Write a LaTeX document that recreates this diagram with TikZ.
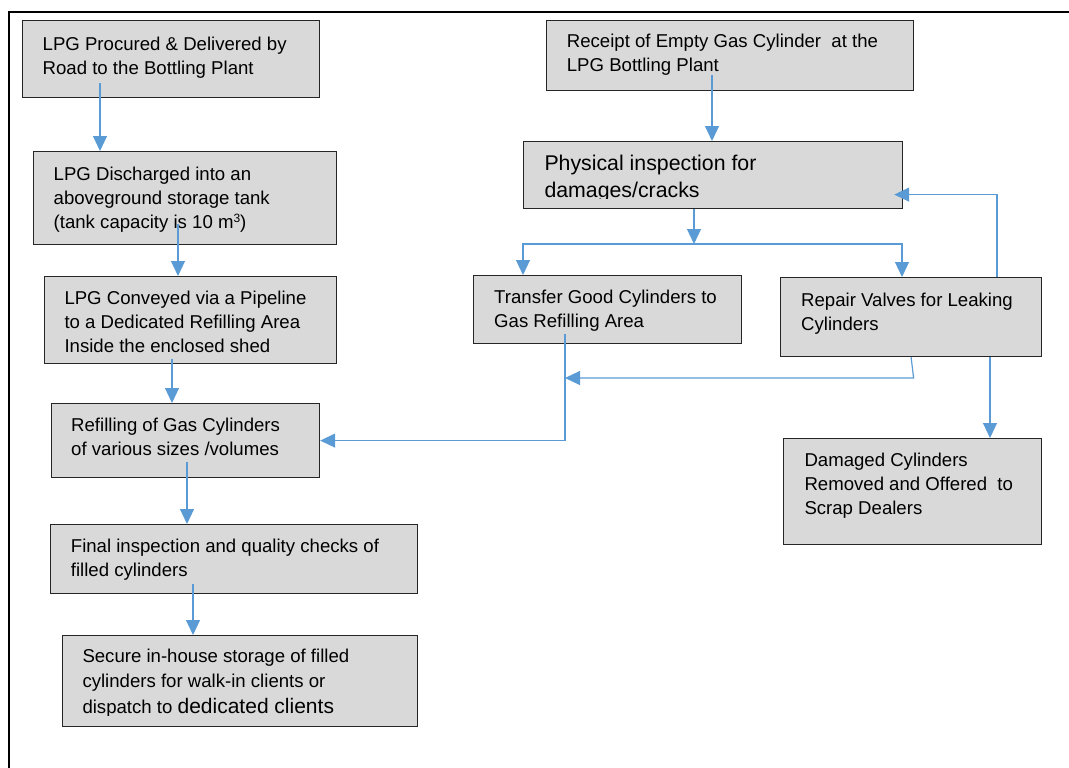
\documentclass[tikz,border=0pt]{standalone}
\usepackage{fontspec}
\setmainfont{Liberation Sans}
\usepackage{tikz}
\usetikzlibrary{arrows.meta}
\tikzset{>={Triangle[length=15pt,width=14pt]}}
\definecolor{flowblue}{HTML}{5B9BD5}
\definecolor{boxgrey}{HTML}{D9D9D9}

\begin{document}
\begin{tikzpicture}[x=1pt, y=-1pt]
            \tikzset{box/.style = {draw=black!85, line width=1.2pt, fill=boxgrey, anchor=north west, inner sep=0pt},
                     txt/.style = {anchor=north west, inner sep=0pt, align=left, font=\fontsize{18.6}{24}\selectfont},
                     flow/.style = {draw=flowblue, line width=1.2pt, ->}}
            \useasboundingbox (0,0) rectangle (1069,768);
            \draw[line width=2pt] (9,768) -- (9,12) -- (1069,12);
            % left column
            \node[box, minimum width=297pt, minimum height=77pt] (procure) at (22,20) {};
            \node[box, minimum width=303pt, minimum height=93pt] (discharge) at (33,151) {};
            \node[box, minimum width=292pt, minimum height=87pt] (convey) at (44,276) {};
            \node[box, minimum width=268pt, minimum height=74pt] (refill) at (51,403) {};
            \node[box, minimum width=367pt, minimum height=69pt] (final) at (50,524) {};
            \node[box, minimum width=355pt, minimum height=91pt] (store) at (62,635) {};
            \node[txt] (procure-t) at (42.5,33.2) {\strut LPG Procured \& Delivered by\\Road to the Bottling Plant};
            \node[txt] (discharge-t) at (53.5,163.5) {\strut LPG Discharged into an\\aboveground storage tank\\(tank capacity is 10 m\raisebox{6.5pt}{\fontsize{12}{12}\selectfont 3})};
            \node[txt] (convey-t) at (64.3,287.2) {\strut LPG Conveyed via a Pipeline\\to a Dedicated Refilling Area\\Inside the enclosed shed};
            \node[txt] (refill-t) at (71,414.2) {\strut Refilling of Gas Cylinders\\of various sizes /volumes};
            \node[txt] (final-t) at (70.7,535.2) {\strut Final inspection and quality checks of\\filled cylinders};
            \begin{scope}
                \clip (62,635) rectangle (417,715.5);
                \node[txt, font=\fontsize{18.6}{25}\selectfont] (store-t) at (82.3,644.8) {\strut Secure in-house storage of filled\\cylinders for walk-in clients or\\[1pt]dispatch to {\fontsize{21}{25}\selectfont dedicated clients}};
            \end{scope}
            % right column
            \node[box, minimum width=367pt, minimum height=70pt] (receipt) at (546,20) {};
            \node[box, minimum width=379pt, minimum height=67pt] (inspect) at (523,141) {};
            \node[box, minimum width=268pt, minimum height=68pt] (transfer) at (473,275) {};
            \node[box, minimum width=261pt, minimum height=79pt] (repair) at (780,277) {};
            \node[box, minimum width=258pt, minimum height=106pt] (scrap) at (783,438) {};
            \node[txt] (receipt-t) at (566.7,30.2) {\strut Receipt of Empty Gas Cylinder\ \ at the\\LPG Bottling Plant};
            \begin{scope}
                \clip (523,141) rectangle (902,198);
                \node[txt, font=\fontsize{21.3}{26.5}\selectfont] (inspect-t) at (544.3,152.1) {\strut Physical inspection for\\damages/cracks};
            \end{scope}
            \node[txt] (transfer-t) at (494,286.2) {\strut Transfer Good Cylinders to\\Gas Refilling Area};
            \node[txt] (repair-t) at (801,289.2) {\strut Repair Valves for Leaking\\Cylinders};
            \node[txt] (scrap-t) at (804.3,449.2) {\strut Damaged Cylinders\\Removed and Offered\ \ to\\Scrap Dealers};
            \coordinate (split) at (694,244);
            \coordinate (merge) at (565,378);
            % connectors
            \draw[flow] ([xshift=78pt,yshift=15pt]procure.south west) coordinate (s1) -- (s1 |- discharge.north);
            \draw[flow] ([xshift=145pt,yshift=21pt]discharge.south west) coordinate (s2) -- (s2 |- convey.north);
            \draw[flow] ([xshift=128pt,yshift=5pt]convey.south west) coordinate (s3) -- (s3 |- refill.north);
            \draw[flow] ([xshift=136pt,yshift=16pt]refill.south west) coordinate (s4) -- (s4 |- final.north);
            \draw[flow] ([xshift=143pt,yshift=10pt]final.south west) coordinate (s5) -- (s5 |- store.north);
            \draw[flow] ([xshift=166pt,yshift=16pt]receipt.south west) coordinate (s6) -- (s6 |- inspect.north);
            \draw[flow] (split |- inspect.south) -- (split);
            \draw[flow] (split) -| ([xshift=50pt]transfer.north west);
            \draw[flow] (split) -| ([xshift=122pt]repair.north west);
            \draw[flow] ([xshift=217pt]repair.north west) |- ([xshift=-9pt,yshift=-19.5pt]inspect.east);
            \draw[flow] (repair.south) -- ([xshift=2.5pt]repair.south |- merge) -- (merge);
            \draw[flow] ([xshift=92pt,yshift=10pt]transfer.south west) |- (refill.east);
            \draw[flow] ([xshift=210pt]repair.south west) -- ([xshift=207pt]scrap.north west);
\end{tikzpicture}
\end{document}
